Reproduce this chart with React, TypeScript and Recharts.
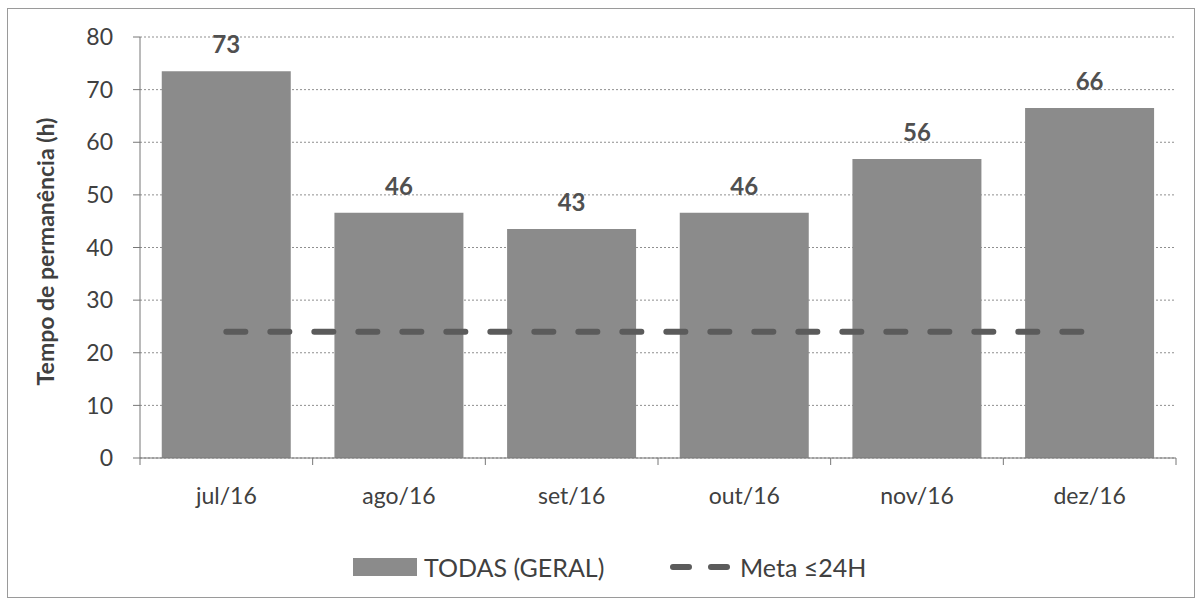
import {
  Bar,
  CartesianGrid,
  ComposedChart,
  LabelList,
  Legend,
  Line,
  XAxis,
  YAxis,
} from 'recharts';

const months = ['jul/16', 'ago/16', 'set/16', 'out/16', 'nov/16', 'dez/16'];
const todasGeral = [73.5, 46.6, 43.5, 46.6, 56.8, 66.5];
const valueLabels = ['73', '46', '43', '46', '56', '66'];
const meta = [24, 24, 24, 24, 24, 24];
const yTicks = [0, 10, 20, 30, 40, 50, 60, 70, 80];

const data = months.map((m, i) => ({ month: m, todas: todasGeral[i], meta: meta[i] }));

const FONT = 'Lato, "Open Sans", sans-serif';
const TEXT = '#404040';
const BAR = '#8b8b8b';
const DASH = '#5b5b5b';

const W = 1202;
const H = 604;
const MARGIN = { top: 37, right: 26, left: 0, bottom: 86 };
const Y_WIDTH = 140;
const X_HEIGHT = 60;
const BAND = (W - MARGIN.left - MARGIN.right - Y_WIDTH) / months.length;

function MonthTick(props: any) {
  const { x, y, payload, index } = props;
  const axisY = y - 30;
  return (
    <g>
      <line x1={x - BAND / 2} x2={x - BAND / 2} y1={axisY} y2={axisY + 7} stroke="#777" />
      {index === months.length - 1 && (
        <line x1={x + BAND / 2} x2={x + BAND / 2} y1={axisY} y2={axisY + 7} stroke="#777" />
      )}
      <text x={x} y={y} dy="0.71em" textAnchor="middle" fill={TEXT} fontSize={23} fontFamily={FONT}>
        {payload.value}
      </text>
    </g>
  );
}

function ValueLabel(props: any) {
  const { x, y, width, index } = props;
  return (
    <text
      x={x + width / 2}
      y={y - 18}
      textAnchor="middle"
      fill="#505050"
      fontSize={24}
      fontWeight="bold"
      fontFamily={FONT}
    >
      {valueLabels[index]}
    </text>
  );
}

function YTitle(props: any) {
  const { viewBox } = props;
  const cx = viewBox.x + 45;
  const cy = viewBox.y + viewBox.height / 2 + 4;
  return (
    <text
      x={cx}
      y={cy}
      transform={`rotate(-90 ${cx} ${cy})`}
      textAnchor="middle"
      dominantBaseline="central"
      fill={TEXT}
      fontSize={23}
      fontWeight="bold"
      fontFamily={FONT}
    >
      Tempo de permanência (h)
    </text>
  );
}

function LegendBox() {
  return (
    <div style={{ position: 'relative', width: W, height: 30, fontFamily: FONT, color: TEXT, fontSize: 25 }}>
      <div style={{ position: 'absolute', left: 353, top: 6, width: 64, height: 18, background: BAR }} />
      <span style={{ position: 'absolute', left: 424, top: 0, lineHeight: '30px' }}>TODAS (GERAL)</span>
      <svg style={{ position: 'absolute', left: 668, top: 0 }} width={64} height={30}>
        <line
          x1={5}
          x2={60}
          y1={15}
          y2={15}
          stroke={DASH}
          strokeWidth={6}
          strokeDasharray="16 22"
          strokeLinecap="round"
        />
      </svg>
      <span style={{ position: 'absolute', left: 740, top: 0, lineHeight: '30px' }}>Meta ≤24H</span>
    </div>
  );
}

export default function App() {
  return (
    <div style={{ position: 'fixed', left: 0, top: 0, width: W, height: H, background: '#fff' }}>
      <div
        style={{
          position: 'absolute',
          left: 7,
          top: 8,
          width: 1188,
          height: 590,
          border: '1px solid #9a9a9a',
          boxSizing: 'border-box',
        }}
      />
      <ComposedChart width={W} height={H} data={data} margin={MARGIN} barCategoryGap="12.6%">
        <CartesianGrid vertical={false} stroke="#8f8f8f" strokeDasharray="2 2" />
        <XAxis
          dataKey="month"
          height={X_HEIGHT}
          stroke="#777"
          tickLine={false}
          tickSize={6}
          tickMargin={24}
          tick={<MonthTick />}
          interval={0}
        />
        <YAxis
          width={Y_WIDTH}
          domain={[0, 80]}
          ticks={yTicks}
          stroke="#777"
          tickSize={7}
          tickMargin={20}
          tick={{ fill: TEXT, fontSize: 23, fontFamily: FONT }}
          label={<YTitle />}
        />
        <Legend
          verticalAlign="middle"
          align="center"
          wrapperStyle={{ top: 552, left: 0, width: W }}
          content={() => <LegendBox />}
        />
        <Bar dataKey="todas" name="TODAS (GERAL)" fill={BAR} isAnimationActive={false}>
          <LabelList dataKey="todas" content={<ValueLabel />} />
        </Bar>
        <Line
          dataKey="meta"
          name="Meta ≤24H"
          stroke={DASH}
          strokeWidth={6}
          strokeDasharray="19 25"
          strokeLinecap="round"
          dot={false}
          activeDot={false}
          isAnimationActive={false}
        />
      </ComposedChart>
    </div>
  );
}
